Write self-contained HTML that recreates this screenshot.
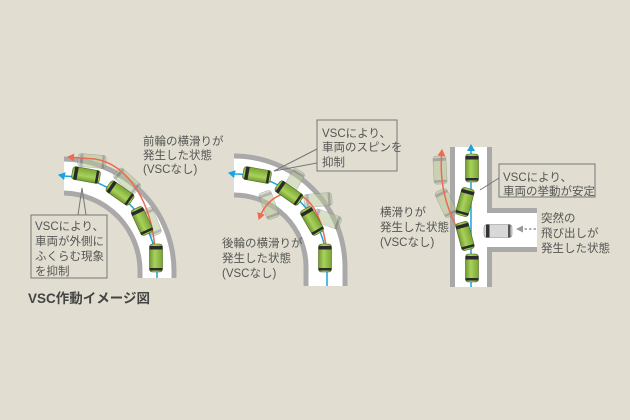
<!DOCTYPE html>
<html><head><meta charset="utf-8"><style>
html,body{margin:0;padding:0;background:#e1ded1;}
svg{display:block}
text{font-family:"Liberation Sans","Noto Sans CJK JP",sans-serif;fill:#555;font-size:11.5px}
</style></head><body>
<svg width="630" height="420" viewBox="0 0 630 420" xmlns="http://www.w3.org/2000/svg">
<defs>
<linearGradient id="cg" x1="0" x2="1" y1="0" y2="0">
<stop offset="0" stop-color="#6f9a2e"/><stop offset="0.4" stop-color="#a9d15c"/><stop offset="1" stop-color="#7aa635"/>
</linearGradient>
<g id="car">
<rect x="-6.5" y="-14" width="13" height="28" rx="3" fill="url(#cg)" stroke="#4d6a22" stroke-width="0.6"/>
<rect x="-6.5" y="-12" width="13" height="3.5" fill="#2a2a2a"/>
<rect x="-6.5" y="10" width="13" height="2.5" fill="#2a2a2a"/>
</g>
<g id="ghost" opacity="0.55">
<rect x="-6.5" y="-14" width="13" height="28" rx="3" fill="#b7c79a" stroke="#7e8a70" stroke-width="0.6"/>
<rect x="-6.5" y="-12" width="13" height="3" fill="#7a7a7a"/>
<rect x="-6.5" y="10" width="13" height="2.5" fill="#7a7a7a"/>
</g>
<marker id="ab" markerWidth="8" markerHeight="8" refX="6" refY="4" orient="auto" markerUnits="userSpaceOnUse"><path d="M0,0 L7,4 L0,8 Z" fill="#1aa3dc"/></marker>
<marker id="ar" markerWidth="8" markerHeight="8" refX="6" refY="4" orient="auto" markerUnits="userSpaceOnUse"><path d="M0,0 L7,4 L0,8 Z" fill="#ee6a50"/></marker>
</defs>

<!-- Diagram 1 road -->
<path d="M64,159 A112,112 0 0 1 174,271 L174,278 L140,278 L140,271 A78,78 0 0 0 64,193 Z" fill="#fff"/>
<path d="M64,159 A112,112 0 0 1 174,271 L174,278" fill="none" stroke="#a9a9a9" stroke-width="5"/>
<path d="M64,193 A78,78 0 0 1 140,271 L140,278" fill="none" stroke="#a9a9a9" stroke-width="5"/>
<use href="#ghost" transform="translate(92,161) rotate(-85)"/>
<use href="#ghost" transform="translate(127,181) rotate(-48)"/>
<use href="#ghost" transform="translate(151,222) rotate(-22)"/>
<path d="M157,278 L157,271 A95,95 0 0 0 64,176 L59,175" fill="none" stroke="#1aa3dc" stroke-width="1.5" marker-end="url(#ab)"/>
<path d="M155,250 C152,205 130,165 95,159 L68,157" fill="none" stroke="#ee6a50" stroke-width="1.5" marker-end="url(#ar)"/>
<use href="#car" transform="translate(86,175) rotate(-80)"/>
<use href="#car" transform="translate(120,193) rotate(-55)"/>
<use href="#car" transform="translate(142,221) rotate(-25)"/>
<use href="#car" transform="translate(156,258)"/>
<rect x="31" y="215" width="76" height="63" fill="none" stroke="#777" stroke-width="1"/>
<path d="M78,215 L82,188 L86,215" fill="none" stroke="#777" stroke-width="1"/>
<text x="35" y="230">VSCにより、</text>
<text x="35" y="245">車両が外側に</text>
<text x="35" y="260">ふくらむ現象</text>
<text x="35" y="275">を抑制</text>
<text x="143" y="145">前輪の横滑りが</text>
<text x="143" y="159">発生した状態</text>
<text x="143" y="173">(VSCなし)</text>
<text x="28" y="303" style="font-size:13.5px;fill:#444;font-weight:bold">VSC作動イメージ図</text>

<!-- Diagram 2 road -->
<path d="M234,156 A111,111 0 0 1 345,267 L345,286 L306,286 L306,267 A72,72 0 0 0 234,195 Z" fill="#fff"/>
<path d="M234,156 A111,111 0 0 1 345,267 L345,286" fill="none" stroke="#a9a9a9" stroke-width="5"/>
<path d="M234,195 A72,72 0 0 1 306,267 L306,286" fill="none" stroke="#a9a9a9" stroke-width="5"/>
<use href="#ghost" transform="translate(293,183) rotate(-150)"/>
<use href="#ghost" transform="translate(269,205) rotate(-20)"/>
<use href="#ghost" transform="translate(318,200) rotate(-95)"/>
<use href="#ghost" transform="translate(327,219) rotate(-70)"/>
<path d="M327,286 L327,267 A93,93 0 0 0 234,174 L229,173" fill="none" stroke="#1aa3dc" stroke-width="1.5" marker-end="url(#ab)"/>
<path d="M328,262 C324,215 310,195 292,193 C275,193 264,205 259,219" fill="none" stroke="#ee6a50" stroke-width="1.5" marker-end="url(#ar)"/>
<use href="#car" transform="translate(257,175) rotate(-80)"/>
<use href="#car" transform="translate(289,193) rotate(-55)"/>
<use href="#car" transform="translate(312,221) rotate(-30)"/>
<use href="#car" transform="translate(325,258)"/>
<rect x="317" y="120" width="80" height="51" fill="none" stroke="#777" stroke-width="1"/>
<path d="M317,149 L274,171 L317,163" fill="none" stroke="#777" stroke-width="1"/>
<text x="322" y="137">VSCにより、</text>
<text x="322" y="151">車両のスピンを</text>
<text x="322" y="166">抑制</text>
<text x="222" y="247">後輪の横滑りが</text>
<text x="222" y="262">発生した状態</text>
<text x="222" y="277">(VSCなし)</text>

<!-- Diagram 3 road -->
<rect x="452" y="147" width="38" height="140" fill="#fff"/>
<rect x="490" y="211" width="47" height="39" fill="#fff"/>
<path d="M452.5,147 L452.5,287" stroke="#a9a9a9" stroke-width="5"/>
<path d="M489.5,147 L489.5,210.5 L537,210.5 M537,249.5 L489.5,249.5 L489.5,287" fill="none" stroke="#a9a9a9" stroke-width="5"/>
<use href="#ghost" transform="translate(440,170) rotate(-3)"/>
<use href="#ghost" transform="translate(446,203) rotate(-25)"/>
<path d="M471,287 L471,145" stroke="#1aa3dc" stroke-width="1.5" marker-end="url(#ab)"/>
<path d="M463,240 C450,215 438,190 442,150" fill="none" stroke="#ee6a50" stroke-width="1.5" marker-end="url(#ar)"/>
<use href="#car" transform="translate(472,168)"/>
<use href="#car" transform="translate(465,202) rotate(15)"/>
<use href="#car" transform="translate(465,236) rotate(-15)"/>
<use href="#car" transform="translate(472,268)"/>
<g transform="translate(498,231) rotate(-90)">
<rect x="-6.5" y="-14" width="13" height="28" rx="3" fill="#d8d8d8" stroke="#888" stroke-width="0.6"/>
<rect x="-6.5" y="-12" width="13" height="3.5" fill="#333"/>
<rect x="-6.5" y="10" width="13" height="2.5" fill="#555"/>
</g>
<path d="M536,229 L522,229" stroke="#999" stroke-width="1.5" stroke-dasharray="2.5,2"/>
<path d="M523,225.5 L516,229 L523,232.5 Z" fill="#999"/>
<rect x="499" y="164" width="96" height="33" fill="none" stroke="#777" stroke-width="1"/>
<path d="M499,178 L480,190" fill="none" stroke="#777" stroke-width="1"/>
<text x="503" y="181">VSCにより、</text>
<text x="503" y="195">車両の挙動が安定</text>
<text x="380" y="216">横滑りが</text>
<text x="380" y="231">発生した状態</text>
<text x="380" y="246">(VSCなし)</text>
<text x="541" y="222">突然の</text>
<text x="541" y="237">飛び出しが</text>
<text x="541" y="252">発生した状態</text>
</svg>
</body></html>
